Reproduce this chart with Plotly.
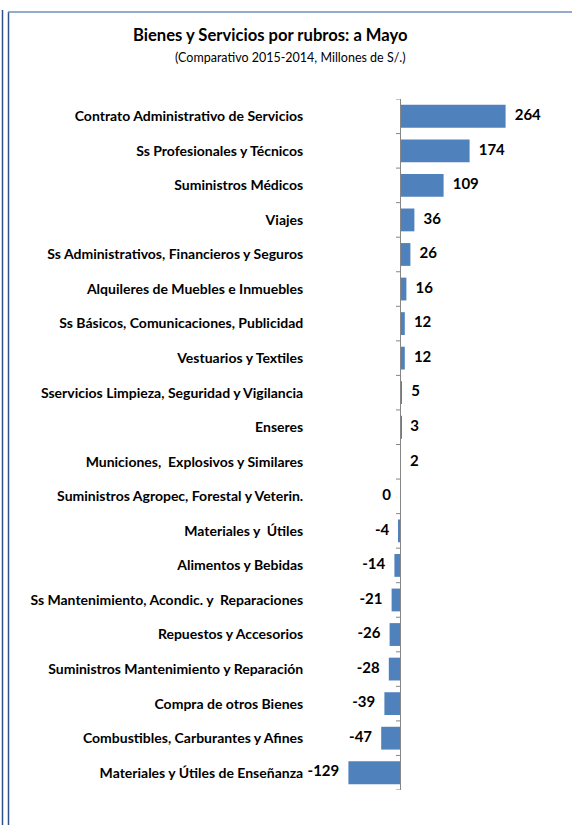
import plotly.graph_objects as go

categories = [
    "Contrato Administrativo de Servicios",
    "Ss Profesionales y Técnicos",
    "Suministros Médicos",
    "Viajes",
    "Ss Administrativos, Financieros y Seguros",
    "Alquileres de Muebles e Inmuebles",
    "Ss Básicos, Comunicaciones, Publicidad",
    "Vestuarios y Textiles",
    "Sservicios Limpieza, Seguridad y Vigilancia",
    "Enseres",
    "Municiones,  Explosivos y Similares",
    "Suministros Agropec, Forestal y Veterin.",
    "Materiales y  Útiles",
    "Alimentos y Bebidas",
    "Ss Mantenimiento, Acondic. y  Reparaciones",
    "Repuestos y Accesorios",
    "Suministros Mantenimiento y Reparación",
    "Compra de otros Bienes",
    "Combustibles, Carburantes y Afines",
    "Materiales y Útiles de Enseñanza",
]
values = [264, 174, 109, 36, 26, 16, 12, 12, 5, 3, 2, 0, -4, -14, -21, -26, -28, -39, -47, -129]

W, H = 572, 825
ML, MR, MT, MB = 330, 12, 99, 35
PW, PH = W - ML - MR, H - MT - MB
XR = [-175, 400]
zero_pos = (0 - XR[0]) / (XR[1] - XR[0])

def px(x):
    return (x - ML) / PW

def py(y):
    return (H - MB - y) / PH

font_fam = "Lato, Roboto, Liberation Sans, Arial, sans-serif"

fig = go.Figure()
fig.add_trace(go.Bar(
    x=values, y=categories, orientation="h",
    marker=dict(color="#4f81bd", line=dict(width=0)),
    hoverinfo="x+y",
))
fig.add_trace(go.Scatter(
    x=values, y=categories, mode="markers+text",
    marker=dict(size=13, opacity=0),
    text=[str(v) for v in values],
    textposition=["middle right" if v > 0 else "middle left" for v in values],
    textfont=dict(family=font_fam, size=15, color="black", weight="bold"),
    hoverinfo="skip", cliponaxis=False,
))

# small tick marks on the category boundaries, left of the zero axis
tick_shapes = [
    dict(type="line", xref="paper", yref="y", x0=px(396), x1=px(400), y0=i - 0.5, y1=i - 0.5,
         line=dict(color="#868686", width=1))
    for i in range(len(categories) + 1)
]

fig.update_layout(
    width=W, height=H,
    margin=dict(l=ML, r=MR, t=MT, b=MB),
    paper_bgcolor="white", plot_bgcolor="white",
    bargap=0.34,
    showlegend=False,
    font=dict(family=font_fam, color="black"),
    xaxis=dict(range=XR, visible=False, showgrid=False, zeroline=False),
    yaxis=dict(
        range=[len(categories) - 0.5, -0.5],
        anchor="free", position=zero_pos,
        showline=True, linecolor="#868686", linewidth=1,
        ticks="", ticklabelstandoff=94,
        tickfont=dict(family=font_fam, size=14, color="black", weight="bold"),
        showgrid=False,
    ),
    annotations=[
        dict(text="<b>Bienes y Servicios por rubros: a Mayo</b>", x=px(270), y=py(35),
             xref="paper", yref="paper", showarrow=False, xanchor="center", yanchor="middle",
             font=dict(family=font_fam, size=16.6, color="black")),
        dict(text="(Comparativo 2015-2014, Millones de S/.)", x=px(290), y=py(58),
             xref="paper", yref="paper", showarrow=False, xanchor="center", yanchor="middle",
             font=dict(family=font_fam, size=12.5, color="black")),
    ],
    shapes=[
        dict(type="line", xref="paper", yref="paper", x0=px(2.5), x1=px(2.5), y0=py(10), y1=py(825),
             line=dict(color="#2f528f", width=1.5)),
        dict(type="line", xref="paper", yref="paper", x0=px(8.5), x1=px(8.5), y0=py(12), y1=py(825),
             line=dict(color="#2f528f", width=1.5)),
        dict(type="line", xref="paper", yref="paper", x0=px(8), x1=px(572), y0=py(12), y1=py(12),
             line=dict(color="#6f8fbf", width=1.5)),
    ] + tick_shapes,
)

fig.write_html("out.html", config={"displayModeBar": False},
               post_script="document.body.style.margin='0px';")
